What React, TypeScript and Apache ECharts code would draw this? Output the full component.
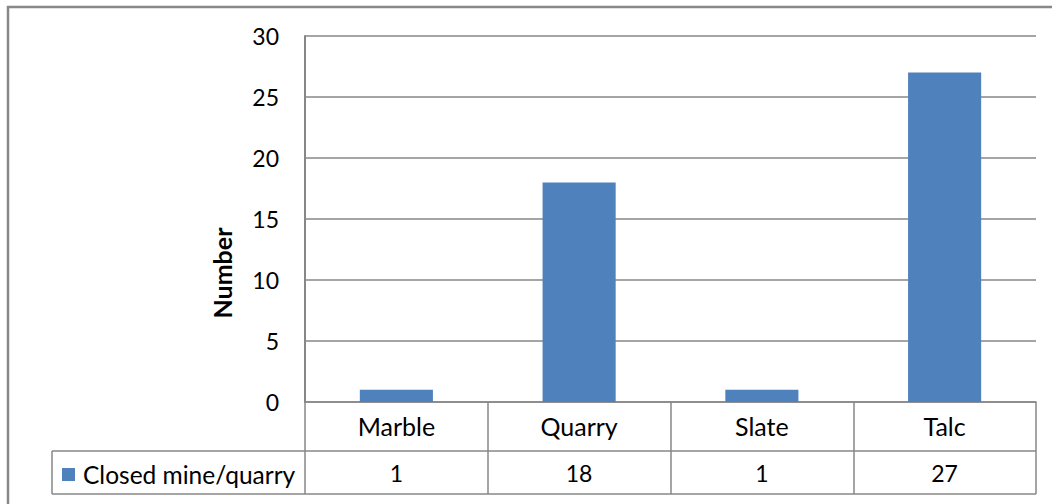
import React, { useEffect, useRef } from "react";
import * as echarts from "echarts";

const categories = ["Marble", "Quarry", "Slate", "Talc"];
const seriesName = "Closed mine/quarry";
const values = [1, 18, 1, 27];
const yTicks = { min: 0, max: 30, interval: 5 };
const yAxisTitle = "Number";

const FONT = "Lato, 'Noto Sans', sans-serif";
const GRID_COLOR = "#878787";
const BAR_COLOR = "#4F81BD";

export default function App() {
  const ref = useRef<HTMLDivElement>(null);
  useEffect(() => {
    document.body.style.margin = "0";
    if (!ref.current) return;
    const chart = echarts.init(ref.current, null, { renderer: "svg" });
    const option: any = {
      animation: false,
      backgroundColor: "#ffffff",
      textStyle: { fontFamily: FONT },
      grid: { left: 305, right: 16, top: 36, bottom: 102, containLabel: false },
      legend: {
        data: [seriesName],
        left: 62,
        top: 462,
        padding: 0,
        itemWidth: 13,
        itemHeight: 13,
        icon: "rect",
        textStyle: { fontSize: 24.5, color: "#000", fontFamily: FONT, padding: [0, 0, 0, 3] },
        selectedMode: false,
      },
      xAxis: [
        {
          type: "category",
          data: categories,
          boundaryGap: true,
          axisLine: { show: true, lineStyle: { color: GRID_COLOR, width: 1.5 } },
          axisTick: { show: true, length: 92, inside: false, lineStyle: { color: GRID_COLOR, width: 1.5 } },
          axisLabel: { fontSize: 25, color: "#000", margin: 11, lineHeight: 25, fontFamily: FONT },
          splitLine: { show: false },
        },
        {
          type: "category",
          data: categories,
          position: "bottom",
          offset: 49,
          boundaryGap: true,
          axisLine: { show: false },
          axisTick: { show: false },
          axisLabel: {
            fontSize: 23,
            color: "#000",
            margin: 10,
            lineHeight: 23,
            fontFamily: FONT,
            formatter: (_v: string, i: number) => String(values[i]),
          },
        },
      ],
      yAxis: {
        type: "value",
        min: yTicks.min,
        max: yTicks.max,
        interval: yTicks.interval,
        name: yAxisTitle,
        nameLocation: "middle",
        nameRotate: 90,
        nameGap: 71,
        nameTextStyle: { fontSize: 25, fontWeight: "bold", color: "#000", fontFamily: FONT, padding: [0, 108, 0, 0] },
        axisLine: { show: true, lineStyle: { color: GRID_COLOR, width: 2 } },
        axisTick: { show: false },
        axisLabel: { fontSize: 23, color: "#000", margin: 26, fontFamily: FONT },
        splitLine: { show: true, lineStyle: { color: GRID_COLOR, width: 1.5 } },
      },
      series: [
        {
          name: seriesName,
          type: "bar",
          data: values,
          barWidth: "40%",
          itemStyle: { color: BAR_COLOR },
          xAxisIndex: 0,
        },
      ],
      graphic: [
        {
          type: "rect",
          shape: { x: 8, y: 7, width: 1200, height: 700 },
          style: { fill: "none", stroke: "#888888", lineWidth: 2.5 },
          silent: true,
        },
        {
          type: "line",
          shape: { x1: 52, y1: 451, x2: 1036, y2: 451 },
          style: { stroke: GRID_COLOR, lineWidth: 1.5 },
          silent: true,
        },
        {
          type: "line",
          shape: { x1: 52, y1: 494, x2: 1036, y2: 494 },
          style: { stroke: GRID_COLOR, lineWidth: 1.5 },
          silent: true,
        },
        {
          type: "line",
          shape: { x1: 52, y1: 451, x2: 52, y2: 494 },
          style: { stroke: GRID_COLOR, lineWidth: 1.5 },
          silent: true,
        },
      ],
    };
    chart.setOption(option);
    return () => chart.dispose();
  }, []);
  return <div ref={ref} style={{ width: 1052, height: 504 }} />;
}
